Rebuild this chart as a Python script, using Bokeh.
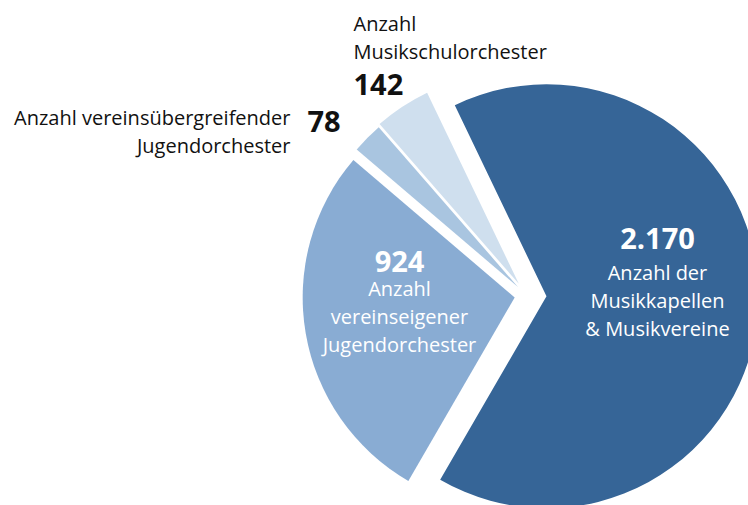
import math
from bokeh.plotting import figure
from bokeh.models import Range1d, ColumnDataSource
from bokeh.core.properties import value
from bokeh.embed import file_html
from bokeh.resources import INLINE

# ---- data ----
categories = ["Musikkapellen & Musikvereine", "Musikschulorchester",
              "vereinsübergreifende Jugendorchester", "vereinseigene Jugendorchester"]
values = [2170, 142, 78, 924]
value_labels = ["2.170", "142", "78", "924"]
name_lines = [
    ["Anzahl der", "Musikkapellen", "& Musikvereine"],
    ["Anzahl", "Musikschulorchester"],
    ["Anzahl vereinsübergreifender", "Jugendorchester"],
    ["Anzahl", "vereinseigener", "Jugendorchester"],
]
colors = ["#366597", "#cfdfee", "#a9c5e0", "#89acd3"]

# ---- layout / style ----
W, H = 748, 505
SH = 505  # reference screen height, data y = SH - screen_y
explode = [20, 14, 12, 12]
origin = (526, SH - 295)
radius = 212
start_deg = -120.1

total = float(sum(values))
xs, ys, starts, ends = [], [], [], []
a = math.radians(start_deg)
for v, e in zip(values, explode):
    span = 2 * math.pi * v / total
    mid = a + span / 2
    xs.append(origin[0] + e * math.cos(mid))
    ys.append(origin[1] + e * math.sin(mid))
    starts.append(a)
    ends.append(a + span)
    a += span

p = figure(width=W, height=H, output_backend="svg", toolbar_location=None,
           x_range=Range1d(0, W), y_range=Range1d(SH - H, SH),
           x_axis_location=None, y_axis_location=None, min_border=0)
p.grid.visible = False
p.outline_line_color = None
p.background_fill_color = "white"

src = ColumnDataSource(dict(x=xs, y=ys, start=starts, end=ends, color=colors, cat=categories))
p.wedge(x="x", y="y", radius=radius, start_angle="start", end_angle="end",
        fill_color="color", line_color=None, source=src)

FONT = "Open Sans"
BIG = "29px"
REG = "20px"
LH = 28
DY = -9  # vertical text correction (screen px)

label_layout = [
    dict(x=657, vy=247, ty=281, align="center", color="white"),
    dict(x=353, vy=93, ty=32, align="left", color="#111111"),
    dict(x=290, vy=130, ty=126, align="right", color="#111111", vx=307, valign="left"),
    dict(x=399, vy=270, ty=297, align="center", color="white"),
]

for i, lay in enumerate(label_layout):
    vx = lay.get("vx", lay["x"])
    valign = lay.get("valign", lay["align"])
    p.text(x=[vx], y=[SH - (lay["vy"] + DY)], text=[value_labels[i]],
           text_font=value(FONT), text_font_style="bold", text_font_size=BIG,
           text_color=lay["color"], text_align=valign, text_baseline="alphabetic")
    lines = name_lines[i]
    p.text(x=[lay["x"]] * len(lines),
           y=[SH - (lay["ty"] + DY + k * LH) for k in range(len(lines))],
           text=lines, text_font=value(FONT), text_font_size=REG,
           text_color=lay["color"], text_align=lay["align"], text_baseline="alphabetic")

open("out.html", "w").write(file_html(p, INLINE))
